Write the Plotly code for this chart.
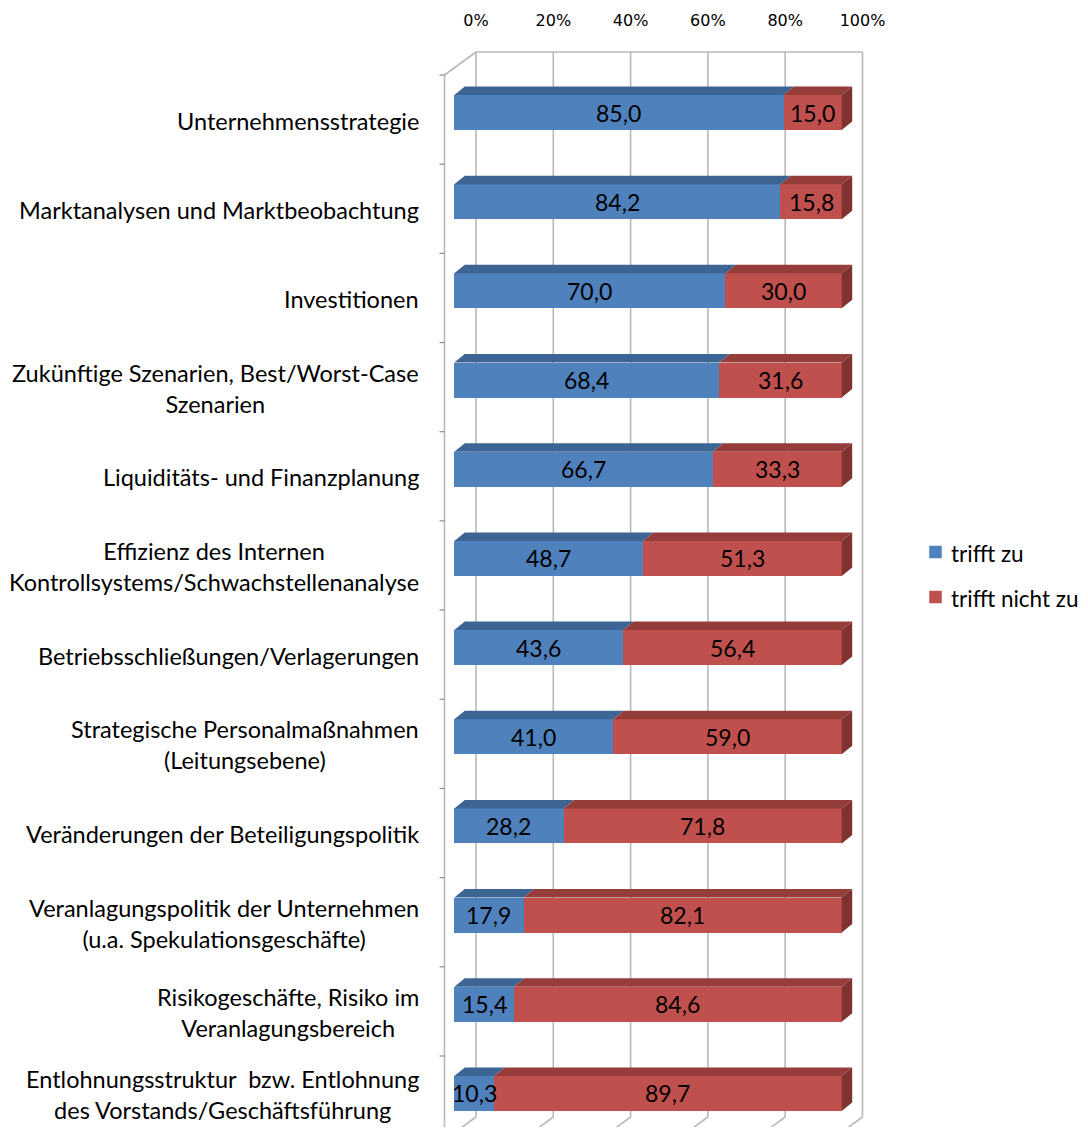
import plotly.graph_objects as go

categories = [
    "Unternehmensstrategie",
    "Marktanalysen und Marktbeobachtung",
    "Investitionen",
    "Zukünftige Szenarien, Best/Worst-Case<br>Szenarien",
    "Liquiditäts- und Finanzplanung",
    "Effizienz des Internen<br>Kontrollsystems/Schwachstellenanalyse",
    "Betriebsschließungen/Verlagerungen",
    "Strategische Personalmaßnahmen<br>(Leitungsebene)",
    "Veränderungen der Beteiligungspolitik",
    "Veranlagungspolitik der Unternehmen<br>(u.a. Spekulationsgeschäfte)",
    "Risikogeschäfte, Risiko im<br>Veranlagungsbereich",
    "Entlohnungsstruktur  bzw. Entlohnung<br>des Vorstands/Geschäftsführung",
]
trifft_zu = [85.0, 84.2, 70.0, 68.4, 66.7, 48.7, 43.6, 41.0, 28.2, 17.9, 15.4, 10.3]
trifft_nicht_zu = [15.0, 15.8, 30.0, 31.6, 33.3, 51.3, 56.4, 59.0, 71.8, 82.1, 84.6, 89.7]
series_names = ["trifft zu", "trifft nicht zu"]
tick_vals = [0, 20, 40, 60, 80, 100]
tick_text = ["0%", "20%", "40%", "60%", "80%", "100%"]

# ---- layout geometry (page pixels) ----
OFF = 8                      # default body margin of the html page
PW, PH = 1088, 1135
W, H = PW - 2 * OFF, PH - 2 * OFF   # figure size
FX0, FX1 = 454.3, 841.7      # front plane 0% / 100%
BX0, BX1 = 476.0, 862.5      # back plane 0% / 100%
CY0, STEP = 112.5, 89.18     # first bar centre, bar spacing
BAR_H = 35.0
DX, DY = 10.5, 8.5           # bar depth offset
WALL_X = 444.5
TOP_Y, BOT_Y = 52.0, 1117.0
WALL_DX, WALL_DY = BX0 - WALL_X, 23.0
FONT = "Lato"
LABEL_SIZE = 23.5

def fx(xp):            # page x -> figure pixel
    return xp - OFF

def fy(yp):
    return yp - OFF

def px(xp):            # page x -> paper fraction
    return fx(xp) / W

def py(yp):
    return 1 - fy(yp) / H

sx = (FX1 - FX0) / 100.0
sbx = (BX1 - BX0) / 100.0
xr = [-fx(FX0) / sx, (W - fx(FX0)) / sx]
x2r = [-fx(BX0) / sbx, (W - fx(BX0)) / sbx]
yr = [(H - fy(CY0)) / STEP, -fy(CY0) / STEP]
dxu, dyu = DX / sx, DY / STEP
bw = BAR_H / STEP

BLUE, BLUE_TOP = "#4F81BD", "#3C6594"
RED, RED_TOP, RED_SIDE = "#C0504D", "#953D3B", "#7E3331"
GRID = "#B8B8B8"

idx = list(range(len(categories)))
colors = [BLUE, RED]

fig = go.Figure()
fig.add_trace(go.Bar(y=idx, x=trifft_zu, orientation="h", name=series_names[0],
                     marker=dict(color=BLUE, line=dict(width=0)), width=bw,
                     hoverinfo="x+name", showlegend=False))
fig.add_trace(go.Bar(y=idx, x=trifft_nicht_zu, orientation="h", name=series_names[1],
                     marker=dict(color=RED, line=dict(width=0)), width=bw,
                     hoverinfo="x+name", showlegend=False))
# invisible trace to carry the back-plane percentage axis
fig.add_trace(go.Scatter(x=[0, 100], y=[0, 0], xaxis="x2", yaxis="y", mode="markers",
                         marker=dict(opacity=0), showlegend=False, hoverinfo="skip"))

shapes = []
# back grid lines + floor diagonals
for t in tick_vals:
    shapes.append(dict(type="line", xref="x2", yref="paper", x0=t, x1=t,
                       y0=py(TOP_Y), y1=py(BOT_Y), line=dict(color=GRID, width=1.6), layer="below"))
    shapes.append(dict(type="line", xref="x2", yref="paper", x0=t, x1=t - WALL_DX / sbx,
                       y0=py(BOT_Y), y1=py(BOT_Y + WALL_DY), line=dict(color=GRID, width=1.6), layer="below"))
# top back edge
shapes.append(dict(type="line", xref="x2", yref="paper", x0=0, x1=100, y0=py(TOP_Y), y1=py(TOP_Y),
                   line=dict(color=GRID, width=1.6), layer="below"))
# left wall
shapes.append(dict(type="line", xref="paper", yref="paper", x0=px(WALL_X), x1=px(WALL_X),
                   y0=py(TOP_Y + WALL_DY), y1=0, line=dict(color=GRID, width=1.6), layer="below"))
shapes.append(dict(type="line", xref="paper", yref="paper", x0=px(WALL_X), x1=px(BX0),
                   y0=py(TOP_Y + WALL_DY), y1=py(TOP_Y), line=dict(color=GRID, width=1.6), layer="below"))
for i in idx:
    ty = i - (CY0 - (TOP_Y + WALL_DY)) / STEP
    shapes.append(dict(type="line", xref="paper", yref="y", x0=px(WALL_X - 5), x1=px(WALL_X),
                       y0=ty, y1=ty, line=dict(color="#8C8C8C", width=1.2), layer="below"))

def poly(pts, color):
    d = "M " + " L ".join(f"{x:.4f},{y:.4f}" for x, y in pts) + " Z"
    return dict(type="path", xref="x", yref="y", path=d, fillcolor=color,
                line=dict(width=0), layer="above")

annotations = []
for i, (a, b) in enumerate(zip(trifft_zu, trifft_nicht_zu)):
    top = i - bw / 2
    bot = i + bw / 2
    tot = a + b
    shapes.append(poly([(0, top), (a, top), (a + dxu, top - dyu), (dxu, top - dyu)], BLUE_TOP))
    shapes.append(poly([(a, top), (tot, top), (tot + dxu, top - dyu), (a + dxu, top - dyu)], RED_TOP))
    shapes.append(poly([(tot, top), (tot + dxu, top - dyu), (tot + dxu, bot - dyu), (tot, bot)], RED_SIDE))
    annotations.append(dict(x=a / 2, y=i, xref="x", yref="y", text=f"{a:.1f}".replace(".", ","),
                            showarrow=False, font=dict(family=FONT, size=23, color="black")))
    annotations.append(dict(x=a + b / 2, y=i, xref="x", yref="y", text=f"{b:.1f}".replace(".", ","),
                            showarrow=False, font=dict(family=FONT, size=23, color="black")))
    # keep the lowest (two-line) label fully inside the figure
    nlines = categories[i].count("<br>") + 1
    centre_px = fy(CY0 + i * STEP) + 8
    half = nlines * 1.3 * LABEL_SIZE / 2 + 1.5
    shift = -8 if centre_px + half <= H else -(H - half - fy(CY0 + i * STEP))
    annotations.append(dict(x=px(421), y=i, xref="paper", yref="y", xanchor="right",
                            text=categories[i], showarrow=False, align="center", yshift=shift,
                            font=dict(family=FONT, size=LABEL_SIZE, color="black")))

# legend (series names with colour keys)
LEG_X, LEG_Y0, LEG_STEP, SQ = 935.5, 552.0, 45.0, 12.5
for k, (nm, col) in enumerate(zip(series_names, colors)):
    cy = LEG_Y0 + k * LEG_STEP
    shapes.append(dict(type="rect", xref="paper", yref="paper",
                       x0=px(LEG_X - SQ / 2), x1=px(LEG_X + SQ / 2),
                       y0=py(cy + SQ / 2), y1=py(cy - SQ / 2),
                       fillcolor=col, line=dict(width=0)))
    annotations.append(dict(x=px(949), y=py(cy), xref="paper", yref="paper", xanchor="left",
                            yanchor="middle", text=nm, showarrow=False, yshift=-1,
                            font=dict(family=FONT, size=22.5, color="black")))

fig.update_layout(
    width=W, height=H,
    margin=dict(l=0, r=0, t=0, b=0),
    paper_bgcolor="white", plot_bgcolor="white",
    barmode="stack",
    xaxis=dict(range=xr, domain=[0, 1], visible=False, fixedrange=True),
    xaxis2=dict(range=x2r, domain=[0, 1], overlaying="x", side="top", anchor="free",
                position=py(29), tickvals=tick_vals, ticktext=tick_text, showgrid=False,
                zeroline=False, showline=False, ticks="", fixedrange=True,
                tickfont=dict(family="DejaVu Sans", size=16, color="black")),
    yaxis=dict(range=yr, domain=[0, 1], visible=False, fixedrange=True),
    showlegend=False,
    shapes=shapes,
    annotations=annotations,
)

fig.write_html("out.html")
